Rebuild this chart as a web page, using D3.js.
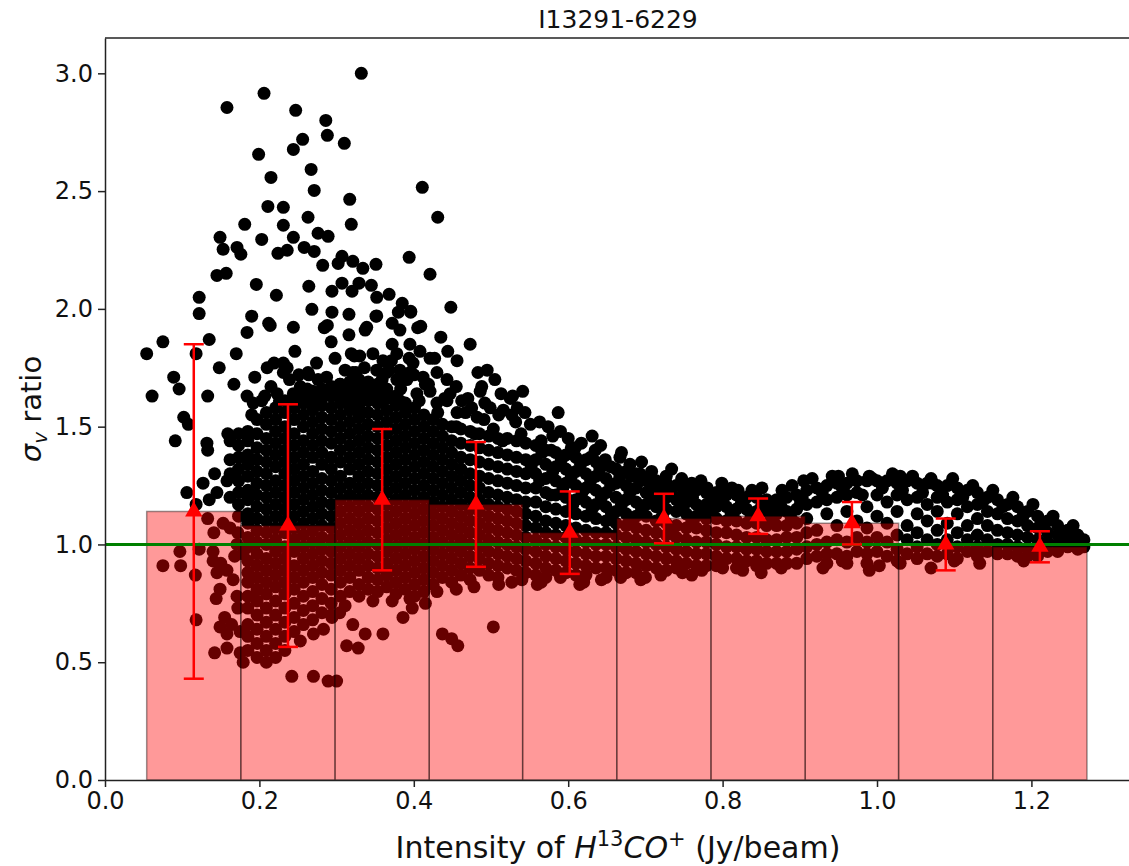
<!DOCTYPE html>
<html>
<head>
<meta charset="utf-8">
<script src="https://cdn.jsdelivr.net/npm/d3@7"></script>
<style>
  body { margin: 0; background: #fff; }
  text { font-family: "DejaVu Sans", sans-serif; fill: #111; }
</style>
</head>
<body>
<svg width="1129" height="866"></svg>
<script>
// ---- data ----
const chartTitle = "I13291-6229"
const xTicks = [0, 0.2, 0.4, 0.6, 0.8, 1.0, 1.2]
const yTicks = [0, 0.5, 1.0, 1.5, 2.0, 2.5, 3.0]

// histogram bins (Jy/beam) and mean ratio / spread per bin
const binEdges = [0.054, 0.176, 0.298, 0.420, 0.541, 0.663, 0.785, 0.907, 1.028, 1.150, 1.272]
const binMeans = [1.14, 1.08, 1.19, 1.17, 1.05, 1.11, 1.12, 1.09, 1.00, 0.99]
const binStd = [0.71, 0.515, 0.30, 0.265, 0.175, 0.105, 0.075, 0.09, 0.11, 0.066]

// scattered pixels, [intensity, ratio]
const outerPoints = [
  [0.332,3.00],[0.206,2.915],[0.158,2.855],[0.247,2.843],[0.286,2.80],[0.288,2.737],[0.256,2.72],[0.310,2.703],
  [0.199,2.656],[0.244,2.677],[0.267,2.592],[0.215,2.558],[0.271,2.503],[0.317,2.465],[0.411,2.516],[0.431,2.389],
  [0.211,2.435],[0.231,2.431],[0.263,2.389],[0.181,2.359],[0.231,2.355],[0.319,2.359],[0.203,2.295],[0.244,2.304],
  [0.276,2.321],[0.289,2.308],[0.149,2.304],[0.153,2.253],[0.171,2.261],[0.176,2.232],[0.224,2.236],[0.236,2.249],
  [0.258,2.261],[0.271,2.244],[0.307,2.223],[0.302,2.193],[0.321,2.202],[0.334,2.172],[0.351,2.189],[0.394,2.219],
  [0.282,2.185],[0.421,2.147],[0.196,2.104],[0.222,2.058],[0.264,2.096],[0.294,2.075],[0.307,2.109],[0.320,2.075],
  [0.329,2.109],[0.345,2.10],[0.352,2.049],[0.368,2.062],[0.385,2.024],[0.380,1.986],[0.396,1.986],[0.448,2.007],
  [0.268,1.998],[0.294,1.986],[0.316,1.977],[0.351,1.969],[0.190,1.969],[0.212,1.939],[0.244,1.922],[0.288,1.930],
  [0.372,1.939],[0.409,1.926],[0.339,1.922],[0.122,2.049],[0.145,2.142],[0.157,2.151],
  [0.054,1.81],[0.061,1.63],[0.075,1.86],[0.089,1.71],[0.096,1.66],[0.091,1.44],[0.102,1.54],[0.108,1.51],
  [0.122,1.98],[0.118,1.81],[0.135,1.87],[0.148,1.75],[0.133,1.63],[0.132,1.43],[0.133,1.40],[0.170,1.81],[0.167,1.68],
  [0.184,1.90],[0.214,1.93],[0.246,1.82],[0.194,1.71],[0.210,1.75],[0.219,1.77],[0.231,1.77],[0.236,1.75],
  [0.264,1.72],[0.276,1.70],[0.284,1.92],[0.293,1.86],[0.316,1.89],[0.337,1.91],[0.352,1.97],[0.319,1.81],
  [0.330,1.80],[0.325,1.73],[0.352,1.74],[0.368,1.74],[0.184,1.63],[0.192,1.60],[0.207,1.63],[0.223,1.64],
  [0.231,1.73],[0.244,1.64],[0.253,1.67],[0.263,1.73],[0.288,1.65],[0.304,1.68],[0.321,1.73],[0.365,1.73],
  [0.378,1.70],[0.347,1.64],[0.360,1.61],
  [0.396,1.99],[0.405,1.92],[0.435,1.88],[0.473,1.85],[0.444,1.82],[0.394,1.79],[0.427,1.79],[0.456,1.78],
  [0.483,1.73],[0.495,1.74],[0.505,1.70],[0.455,1.67],[0.488,1.67],[0.513,1.64],[0.528,1.63],[0.541,1.65],
  [0.470,1.62],[0.534,1.58],[0.544,1.56],[0.516,1.57],[0.482,1.54],[0.587,1.56],[0.563,1.52],[0.574,1.50],
  [0.580,1.46],[0.631,1.46],[0.600,1.45],[0.609,1.41],[0.635,1.40],[0.667,1.37],[0.680,1.34],[0.648,1.36],
  [0.693,1.30],[0.727,1.29],[0.702,1.27],[0.760,1.26],[0.797,1.22],
  [0.382,1.91],[0.372,1.85],[0.378,1.81],[0.395,1.85],[0.408,1.82],[0.421,1.79],[0.399,1.77],[0.382,1.74],
  [0.391,1.70],[0.412,1.71],[0.430,1.73],[0.443,1.70],[0.421,1.65],[0.404,1.64],[0.382,1.61],[0.430,1.60],
  [0.447,1.64],[0.462,1.61],[0.486,1.65],[0.456,1.56],[0.499,1.58],[0.525,1.62],
  [0.106,1.22],[0.127,1.26],[0.142,1.30],[0.158,1.27],[0.145,1.22],[0.159,1.47],[0.118,1.17],[0.135,1.19],
  [0.097,0.97],[0.075,0.91],[0.098,0.91],[0.117,0.87],[0.118,0.68],[0.122,0.98],[0.133,1.11],[0.141,1.05],
  [0.140,0.97],[0.140,0.93],[0.150,0.92],[0.145,0.88],[0.158,0.89],[0.149,0.81],[0.144,0.77],[0.166,0.85],
  [0.171,0.78],[0.172,0.73],[0.155,0.69],[0.149,0.65],[0.158,0.62],[0.164,0.66],[0.175,0.63],[0.142,0.54],
  [0.158,0.56],[0.175,0.54],[0.179,0.50],[0.171,1.00],[0.168,0.95],[0.179,0.96],[0.162,1.07],[0.153,1.09],[0.172,1.05],
  [0.242,0.44],[0.270,0.44],[0.289,0.42],[0.300,0.42],[0.294,0.69],[0.304,0.71],[0.321,0.66],[0.337,0.62],
  [0.360,0.62],[0.313,0.57],[0.328,0.56],[0.386,0.69],[0.398,0.73],[0.415,0.75],[0.437,0.62],[0.449,0.60],
  [0.457,0.57],[0.503,0.65],[0.253,0.59],[0.270,0.62],[0.283,0.64],
  [0.56,0.83],[0.62,0.84],[0.70,0.86],[0.76,0.87],[0.85,0.88],[0.99,0.89],[1.07,0.90],
  [0.78,1.24],[0.80,1.25],[0.82,1.23],[0.905,1.27],[0.95,1.29],[0.99,1.29],[1.03,1.29],[1.07,1.28]
]

// ragged rim of the cloud, upper and lower
const rimPoints = [
  [0.190,1.55],[0.203,1.61],[0.215,1.67],[0.226,1.61],[0.239,1.70],[0.251,1.72],[0.262,1.66],[0.274,1.77],
  [0.287,1.71],[0.298,1.79],[0.311,1.74],[0.323,1.80],[0.336,1.75],[0.347,1.81],[0.359,1.70],[0.371,1.78],
  [0.383,1.66],[0.395,1.73],[0.407,1.61],[0.419,1.68],[0.431,1.56],[0.443,1.61],[0.455,1.50],[0.467,1.56],
  [0.479,1.47],[0.491,1.53],[0.503,1.49],[0.515,1.44],[0.527,1.55],[0.539,1.47],[0.551,1.51],[0.565,1.44],
  [0.578,1.40],[0.590,1.48],[0.604,1.41],[0.617,1.43],[0.629,1.37],[0.642,1.42],[0.655,1.33],[0.669,1.39],
  [0.682,1.29],[0.695,1.35],[0.708,1.31],[0.721,1.24],[0.734,1.32],[0.747,1.28],[0.759,1.22],[0.772,1.27],
  [0.786,1.19],[0.799,1.26],[0.812,1.24],[0.825,1.18],[0.838,1.23],[0.851,1.24],[0.864,1.17],[0.877,1.23],
  [0.890,1.25],[0.903,1.20],[0.916,1.28],[0.929,1.22],[0.942,1.29],[0.955,1.24],[0.968,1.30],[0.981,1.21],
  [0.994,1.28],[1.007,1.24],[1.020,1.30],[1.033,1.23],[1.046,1.29],[1.059,1.22],[1.072,1.26],[1.085,1.21],
  [1.098,1.28],[1.111,1.20],[1.124,1.25],[1.137,1.18],[1.150,1.23],[1.163,1.16],[1.176,1.20],[1.189,1.12],
  [1.202,1.17],[1.215,1.09],[1.228,1.12],[1.241,1.04],[1.254,1.08],
  [0.360,1.78],[0.400,1.72],[0.415,1.68],[0.440,1.62],[0.475,1.58],[0.492,1.60],[0.510,1.55],[0.532,1.52],
  [0.311,0.74],[0.347,0.76],[0.372,0.76],[0.395,0.77],[0.430,0.80],[0.455,0.81],[0.478,0.82],[0.510,0.83],
  [0.527,0.84],[0.540,0.85],[0.565,0.84],[0.590,0.86],[0.615,0.83],[0.643,0.85],[0.668,0.86],[0.694,0.85],
  [0.720,0.87],[0.748,0.88],[0.773,0.89],[0.800,0.90],[0.826,0.89],[0.876,0.90],[0.930,0.90],[0.955,0.93],
  [1.003,0.91],[1.030,0.92],[1.100,0.93],[1.133,0.92],[1.190,0.93]
]

// extra pixels packed inside the upper band of the tail
const bandPoints = [
  [0.552,1.33],[0.563,1.27],[0.566,1.39],[0.577,1.21],[0.580,1.31],[0.591,1.36],[0.593,1.24],[0.604,1.29],
  [0.606,1.17],[0.616,1.34],[0.618,1.22],[0.629,1.27],[0.631,1.15],[0.641,1.32],[0.643,1.20],[0.655,1.25],
  [0.656,1.13],[0.667,1.29],[0.669,1.17],[0.680,1.22],[0.682,1.10],[0.693,1.27],[0.695,1.15],[0.707,1.20],
  [0.708,1.25],[0.720,1.18],[0.722,1.12],[0.733,1.22],[0.735,1.06],[0.746,1.16],[0.748,1.21],[0.760,1.10],
  [0.761,1.20],[0.773,1.14],[0.786,1.13],[0.798,1.19],[0.811,1.13],[0.824,1.17],[0.837,1.12],[0.850,1.16],
  [0.863,1.11],[0.876,1.16],[0.889,1.11],[0.901,1.18]
]

// dense core, listed per intensity column: [intensity, [ratios]]
const coreColumns = [
  [0.162,[1.44,1.36,1.30,1.20]],
  [0.173,[1.47,1.42,1.37,1.32,1.27,1.22,1.17,1.12]],
  [0.185,[1.48,1.44,1.38,1.34,1.29,1.23,1.19,1.13,1.09,1.03,0.99,0.93,0.88,0.84,0.78,0.73,0.66,0.61,0.55]],
  [0.197,[1.53,1.47,1.41,1.36,1.31,1.26,1.21,1.16,1.11,1.06,1.01,0.96,0.91,0.86,0.81,0.76,0.70,0.64,0.58,0.52]],
  [0.209,[1.56,1.51,1.45,1.40,1.35,1.30,1.25,1.20,1.15,1.10,1.05,1.00,0.94,0.89,0.84,0.79,0.73,0.67,0.61,0.55,0.50]],
  [0.221,[1.58,1.53,1.48,1.43,1.38,1.33,1.27,1.22,1.17,1.12,1.07,1.02,0.97,0.92,0.87,0.82,0.76,0.70,0.64,0.58,0.52]],
  [0.233,[1.61,1.56,1.50,1.45,1.40,1.35,1.30,1.25,1.20,1.15,1.10,1.05,0.99,0.94,0.89,0.84,0.79,0.73,0.67,0.61,0.55]],
  [0.245,[1.62,1.58,1.53,1.47,1.42,1.37,1.32,1.27,1.22,1.17,1.12,1.07,1.02,0.97,0.91,0.86,0.81,0.75,0.69,0.63]],
  [0.257,[1.64,1.60,1.55,1.50,1.44,1.39,1.34,1.29,1.24,1.19,1.14,1.09,1.04,0.99,0.94,0.89,0.84,0.78,0.72,0.66]],
  [0.269,[1.65,1.61,1.57,1.52,1.47,1.42,1.37,1.31,1.26,1.21,1.16,1.11,1.06,1.01,0.96,0.91,0.86,0.80,0.74,0.68]],
  [0.281,[1.66,1.62,1.59,1.54,1.49,1.44,1.39,1.34,1.28,1.23,1.18,1.13,1.08,1.03,0.98,0.93,0.88,0.83,0.77,0.71]],
  [0.293,[1.67,1.63,1.58,1.53,1.48,1.43,1.37,1.32,1.27,1.22,1.17,1.12,1.07,1.02,0.97,0.92,0.87,0.81,0.75,0.70]],
  [0.305,[1.68,1.64,1.60,1.55,1.50,1.45,1.40,1.35,1.29,1.24,1.19,1.14,1.09,1.04,0.99,0.94,0.89,0.84,0.78]],
  [0.317,[1.69,1.65,1.61,1.57,1.52,1.47,1.42,1.37,1.32,1.26,1.21,1.16,1.11,1.06,1.01,0.96,0.91,0.86,0.80]],
  [0.329,[1.70,1.66,1.62,1.58,1.54,1.49,1.44,1.39,1.34,1.29,1.24,1.19,1.14,1.09,1.04,0.99,0.94,0.89,0.83,0.78]],
  [0.341,[1.69,1.65,1.61,1.56,1.51,1.46,1.41,1.36,1.31,1.26,1.21,1.16,1.11,1.06,1.01,0.96,0.91,0.86,0.81]],
  [0.353,[1.68,1.64,1.60,1.55,1.50,1.45,1.40,1.35,1.30,1.25,1.20,1.15,1.10,1.05,1.00,0.95,0.90,0.85,0.80]],
  [0.365,[1.66,1.62,1.57,1.52,1.47,1.42,1.37,1.32,1.27,1.22,1.17,1.12,1.07,1.02,0.97,0.92,0.87,0.82]],
  [0.377,[1.63,1.59,1.54,1.49,1.44,1.39,1.34,1.29,1.24,1.19,1.14,1.09,1.04,0.99,0.94,0.89,0.84,0.79]],
  [0.389,[1.60,1.56,1.51,1.46,1.41,1.36,1.31,1.26,1.21,1.16,1.11,1.06,1.01,0.96,0.91,0.86,0.81]],
  [0.401,[1.58,1.53,1.48,1.43,1.38,1.33,1.28,1.23,1.18,1.13,1.08,1.03,0.98,0.93,0.88,0.83,0.78]],
  [0.413,[1.55,1.50,1.45,1.40,1.35,1.30,1.25,1.20,1.15,1.10,1.05,1.00,0.95,0.90,0.85,0.80]],
  [0.425,[1.53,1.48,1.43,1.38,1.33,1.28,1.23,1.18,1.13,1.08,1.03,0.98,0.93,0.88,0.83]],
  [0.437,[1.51,1.46,1.41,1.36,1.31,1.26,1.21,1.16,1.11,1.06,1.01,0.96,0.91,0.86]],
  [0.449,[1.50,1.44,1.39,1.34,1.29,1.24,1.19,1.14,1.09,1.04,0.99,0.94,0.89,0.84]],
  [0.461,[1.49,1.43,1.37,1.32,1.27,1.22,1.17,1.12,1.07,1.02,0.97,0.92,0.87]],
  [0.473,[1.48,1.42,1.36,1.30,1.25,1.20,1.15,1.10,1.05,1.00,0.95,0.90,0.85]],
  [0.485,[1.47,1.41,1.35,1.29,1.24,1.19,1.14,1.09,1.04,0.99,0.94,0.89]],
  [0.497,[1.46,1.40,1.34,1.28,1.22,1.17,1.12,1.07,1.02,0.97,0.92,0.87]],
  [0.509,[1.45,1.39,1.33,1.27,1.21,1.16,1.11,1.06,1.01,0.96,0.91,0.86]],
  [0.521,[1.45,1.38,1.32,1.26,1.20,1.15,1.10,1.05,1.00,0.95,0.90]],
  [0.533,[1.44,1.37,1.31,1.25,1.19,1.14,1.09,1.04,0.99,0.94,0.89]],
  [0.545,[1.43,1.36,1.30,1.24,1.18,1.13,1.08,1.03,0.98,0.93,0.88]]
]

// brighter tail of the map, same layout
const tailColumns = [
  [0.558,[1.42,1.36,1.30,1.24,1.18,1.12,1.07,1.02,0.97,0.92,0.87]],
  [0.571,[1.40,1.34,1.28,1.22,1.16,1.10,1.05,1.00,0.95,0.90,0.86]],
  [0.584,[1.39,1.33,1.27,1.21,1.15,1.09,1.04,0.99,0.94,0.89]],
  [0.597,[1.38,1.32,1.26,1.20,1.14,1.08,1.03,0.98,0.93,0.88]],
  [0.610,[1.37,1.31,1.25,1.19,1.13,1.07,1.02,0.97,0.92,0.87]],
  [0.623,[1.36,1.30,1.24,1.18,1.12,1.06,1.01,0.96,0.91,0.87]],
  [0.636,[1.35,1.29,1.23,1.17,1.11,1.05,1.00,0.95,0.90]],
  [0.649,[1.34,1.28,1.22,1.16,1.10,1.05,1.00,0.95,0.90,0.86]],
  [0.662,[1.32,1.26,1.20,1.14,1.09,1.04,0.99,0.94,0.89]],
  [0.675,[1.31,1.25,1.19,1.13,1.08,1.03,0.98,0.93,0.88]],
  [0.688,[1.30,1.24,1.18,1.12,1.07,1.02,0.97,0.92,0.88]],
  [0.701,[1.28,1.22,1.17,1.12,1.06,1.01,0.96,0.91]],
  [0.714,[1.27,1.21,1.16,1.10,1.05,1.00,0.95,0.90]],
  [0.727,[1.26,1.20,1.15,1.09,1.04,0.99,0.94,0.89]],
  [0.740,[1.25,1.19,1.14,1.08,1.03,0.98,0.93,0.90]],
  [0.753,[1.24,1.18,1.13,1.07,1.02,0.97,0.92]],
  [0.766,[1.23,1.17,1.12,1.07,1.01,0.96,0.91]],
  [0.779,[1.22,1.17,1.11,1.06,1.01,0.96,0.91]],
  [0.792,[1.22,1.16,1.11,1.05,1.00,0.95,0.91]],
  [0.805,[1.21,1.16,1.10,1.05,0.99,0.94]],
  [0.818,[1.21,1.15,1.10,1.04,0.99,0.94,0.90]],
  [0.831,[1.20,1.15,1.09,1.03,0.98,0.93]],
  [0.844,[1.20,1.14,1.09,1.03,0.98,0.93,0.91]],
  [0.857,[1.19,1.14,1.08,1.02,0.97,0.92]],
  [0.870,[1.19,1.13,1.08,1.02,0.97,0.92]],
  [0.883,[1.20,1.14,1.08,1.03,0.97,0.92]],
  [0.896,[1.21,1.15,1.09,1.03,0.98,0.92]],
  [0.909,[1.23,1.17,1.11,1.05,0.99,0.94]],
  [0.922,[1.24,1.18,1.06,1.00,0.95]],
  [0.935,[1.25,1.19,1.13,1.01,0.96,0.92]],
  [0.948,[1.26,1.20,1.08,1.02,0.96]],
  [0.961,[1.26,1.21,1.14,1.01,0.95,0.92]],
  [0.974,[1.27,1.22,1.10,1.03,0.97]],
  [0.987,[1.27,1.16,1.07,1.01,0.96,0.92]],
  [1.000,[1.27,1.21,1.12,1.03,0.97]],
  [1.013,[1.27,1.18,1.09,1.01,0.95]],
  [1.026,[1.26,1.21,1.14,1.04,0.98,0.93]],
  [1.039,[1.27,1.19,1.08,1.02,0.96]],
  [1.052,[1.26,1.20,1.13,1.05,0.99,0.94]],
  [1.065,[1.26,1.17,1.10,1.02,0.96]],
  [1.078,[1.25,1.20,1.14,1.06,1.00,0.95]],
  [1.091,[1.25,1.18,1.09,1.02,0.96]],
  [1.104,[1.24,1.19,1.13,1.05,0.99,0.94]],
  [1.117,[1.23,1.16,1.08,1.02,0.97]],
  [1.130,[1.22,1.17,1.11,1.04,0.99,0.95]],
  [1.143,[1.20,1.14,1.08,1.02,0.97]],
  [1.156,[1.19,1.13,1.06,1.00,0.96]],
  [1.169,[1.17,1.11,1.05,1.00,0.96]],
  [1.182,[1.16,1.10,1.04,0.99,0.95]],
  [1.195,[1.14,1.08,1.03,0.98,0.95]],
  [1.208,[1.12,1.07,1.02,0.98,0.95]],
  [1.221,[1.10,1.05,1.01,0.97]],
  [1.234,[1.08,1.04,1.00,0.97]],
  [1.247,[1.06,1.02,0.99]],
  [1.260,[1.04,1.01,0.98]],
  [1.268,[1.02,0.99]]
]

// ---- drawing ----
var svg = d3.select("svg")

var scX = d3.scaleLinear().domain([0, 1.329]).range([105, 1131])
var scY = d3.scaleLinear().domain([0, 3.15]).range([780, 38])

var unroll = cols => cols.flatMap(([cx, ys]) => ys.map(v => [cx, v]))
var points = outerPoints.concat(rimPoints, bandPoints, unroll(coreColumns), unroll(tailColumns))

// scatter first, the histogram sits on top of it with transparency
svg.append("g").attr("id", "scatter")
    .selectAll("circle").data(points).enter()
    .append("circle")
    .attr("r", 6.5).attr("fill", "#000")
    .attr("cx", d => scX(d[0]))
    .attr("cy", d => scY(d[1]))

var bins = binMeans.map((m, i) => ({x0: binEdges[i], x1: binEdges[i + 1], m: m, s: binStd[i]}))

svg.append("g").attr("id", "hist")
    .selectAll("rect").data(bins).enter()
    .append("rect")
    .attr("x", d => scX(d.x0))
    .attr("y", d => scY(d.m))
    .attr("width", d => scX(d.x1) - scX(d.x0))
    .attr("height", d => scY(0) - scY(d.m))
    .attr("fill", "#ff0000").attr("fill-opacity", 0.4)
    .attr("stroke", "#000").attr("stroke-opacity", 0.4).attr("stroke-width", 1.5)

// reference line at ratio = 1
svg.append("line")
    .attr("x1", scX(0)).attr("x2", scX(1.329))
    .attr("y1", scY(1)).attr("y2", scY(1))
    .attr("stroke", "#008000").attr("stroke-width", 3)

// error bars with triangle markers
var eb = svg.append("g").attr("id", "errbars")
    .selectAll("g").data(bins).enter().append("g")
    .attr("transform", d => `translate(${scX((d.x0 + d.x1) / 2)},0)`)

eb.append("line")
    .attr("y1", d => scY(d.m - d.s)).attr("y2", d => scY(d.m + d.s))
    .attr("stroke", "red").attr("stroke-width", 2.5)
eb.selectAll(".cap").data(d => [d.m - d.s, d.m + d.s]).enter()
    .append("line")
    .attr("x1", -10).attr("x2", 10)
    .attr("y1", v => scY(v)).attr("y2", v => scY(v))
    .attr("stroke", "red").attr("stroke-width", 2.5)
eb.append("path")
    .attr("d", d3.symbol(d3.symbolTriangle).size(130))
    .attr("transform", d => `translate(0,${scY(d.m)})`)
    .attr("fill", "red")

// axes
var axX = d3.axisBottom(scX).tickValues(xTicks).tickFormat(d3.format(".1f"))
    .tickSize(7).tickSizeOuter(0).tickPadding(5)
var axY = d3.axisLeft(scY).tickValues(yTicks).tickFormat(d3.format(".1f"))
    .tickSize(7).tickSizeOuter(0).tickPadding(5)

var gx = svg.append("g").attr("transform", `translate(0, ${scY(0)})`).call(axX)
var gy = svg.append("g").attr("transform", `translate(${scX(0)}, 0)`).call(axY)

;[gx, gy].forEach(g => {
    g.selectAll("text").attr("font-size", 24).attr("fill", "#111")
        .attr("font-family", "DejaVu Sans")
    g.selectAll("line").attr("stroke", "#222").attr("stroke-width", 1.5)
    g.select(".domain").attr("stroke", "#222").attr("stroke-width", 1.5)
})

// top spine (right one falls just outside the page)
svg.append("line")
    .attr("x1", scX(0)).attr("x2", scX(1.329))
    .attr("y1", scY(3.15)).attr("y2", scY(3.15))
    .attr("stroke", "#222").attr("stroke-width", 1.5)

svg.append("text")
    .attr("x", (scX(0) + scX(1.329)) / 2).attr("y", 28)
    .attr("text-anchor", "middle").attr("font-size", 25)
    .text(chartTitle)

var xl = svg.append("text")
    .attr("x", (scX(0) + scX(1.329)) / 2).attr("y", 858)
    .attr("text-anchor", "middle").attr("font-size", 30)
xl.append("tspan").text("Intensity of ")
xl.append("tspan").attr("font-style", "italic").text("H")
xl.append("tspan").attr("font-size", 21).attr("dy", -12).text("13")
xl.append("tspan").attr("font-style", "italic").attr("dy", 12).text("CO")
xl.append("tspan").attr("font-size", 21).attr("dy", -12).text("+")
xl.append("tspan").attr("dy", 12).text(" (Jy/beam)")

var yl = svg.append("text")
    .attr("transform", `translate(41, ${(scY(0) + scY(3.15)) / 2}) rotate(-90)`)
    .attr("text-anchor", "middle").attr("font-size", 29)
yl.append("tspan").attr("font-style", "italic").text("σ")
yl.append("tspan").attr("font-style", "italic").attr("font-size", 20).attr("dy", 6).text("v")
yl.append("tspan").attr("dy", -6).text(" ratio")
</script>
</body>
</html>
